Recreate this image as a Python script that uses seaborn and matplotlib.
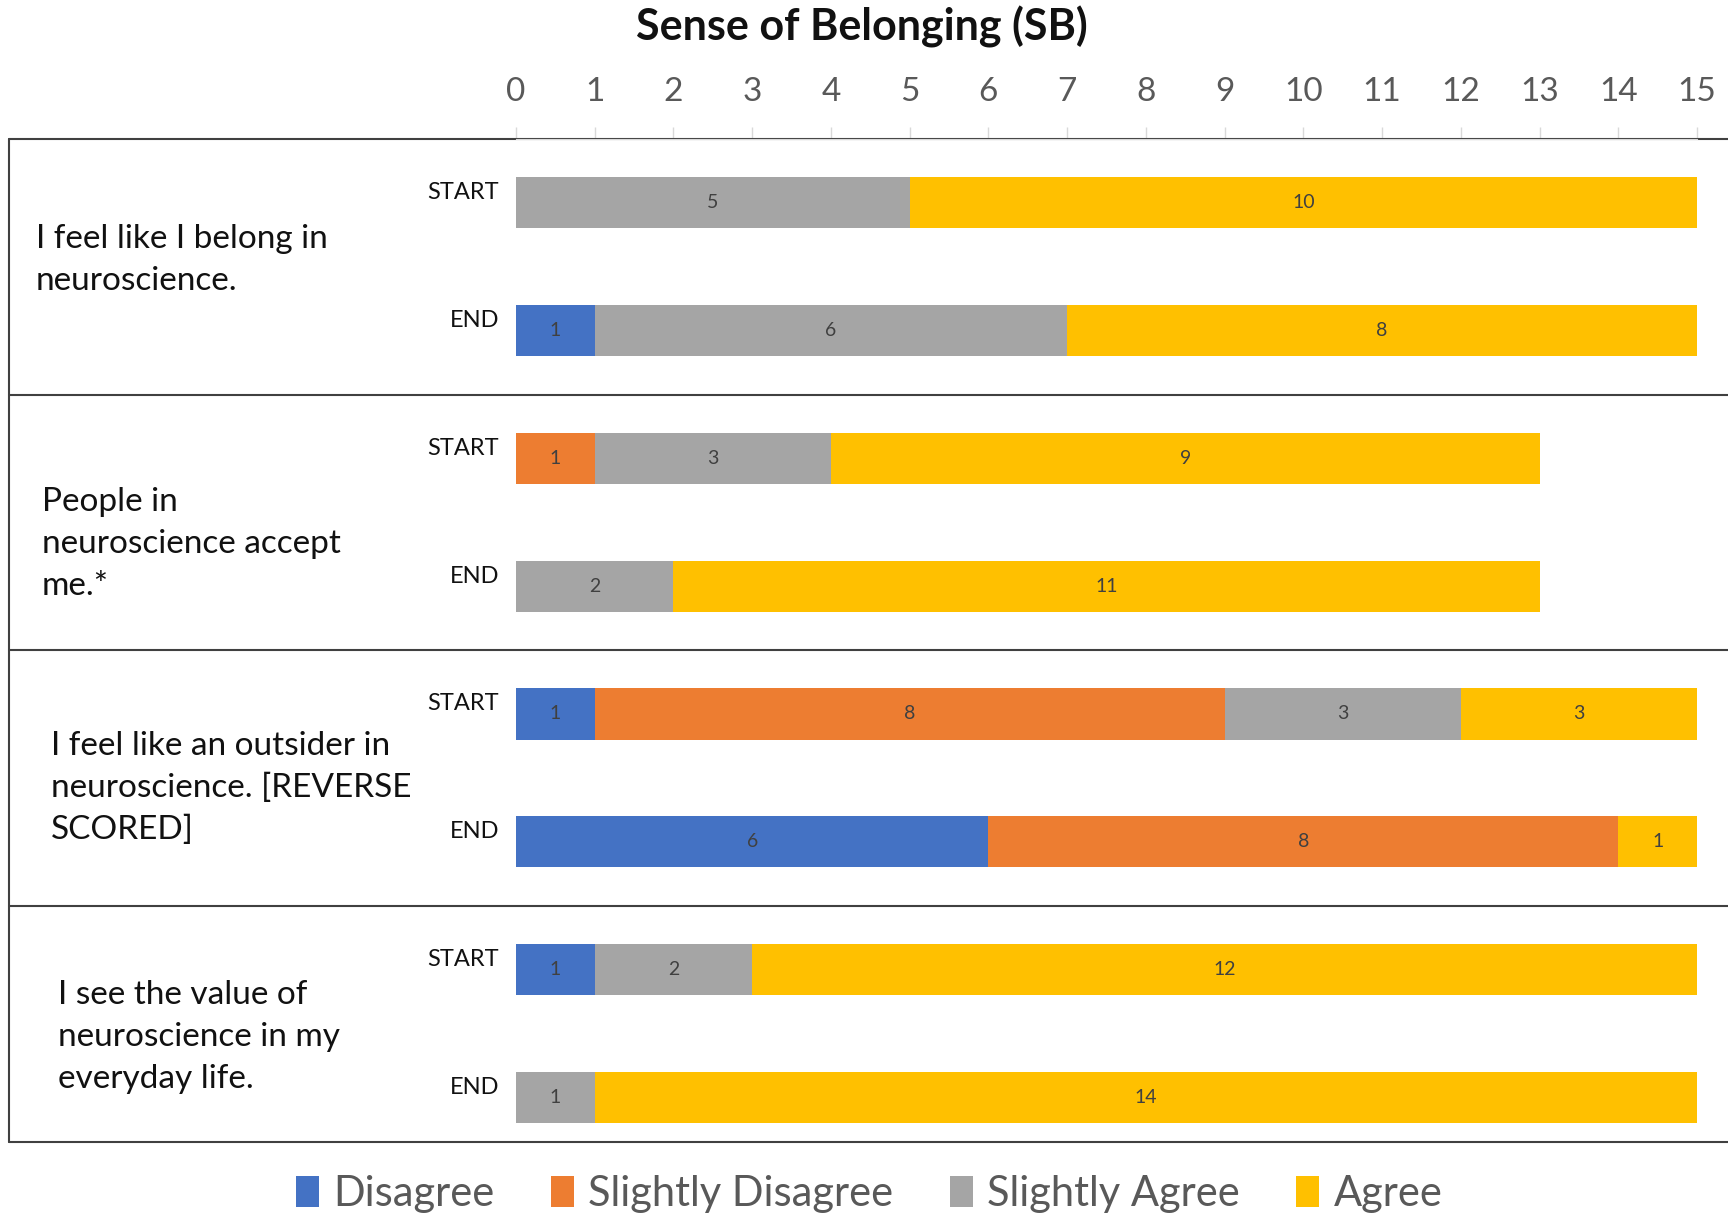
import numpy as np
import pandas as pd
import matplotlib
matplotlib.use("Agg")
import matplotlib.pyplot as plt
import seaborn as sns
from matplotlib.patches import Patch
from matplotlib.lines import Line2D
from matplotlib.transforms import ScaledTranslation

# ── Data ─────────────────────────────────────────────────────
questions = [
    "I feel like I belong in\nneuroscience.",
    "People in\nneuroscience accept\nme.*",
    "I feel like an outsider in\nneuroscience. [REVERSE\nSCORED]",
    "I see the value of\nneuroscience in my\neveryday life.",
]
phases = ["START", "END"]
levels = ["Disagree", "Slightly Disagree", "Slightly Agree", "Agree"]
colors = ["#4472C4", "#ED7D31", "#A5A5A5", "#FFC000"]

# one value per bar, order: Q1 START, Q1 END, Q2 START, ...
disagree          = [0, 1, 0, 0, 1, 6, 1, 0]
slightly_disagree = [0, 0, 1, 0, 8, 8, 0, 0]
slightly_agree    = [5, 6, 3, 2, 3, 0, 2, 1]
agree             = [10, 8, 9, 11, 3, 1, 12, 14]

rows = [f"Q{q + 1} {p}" for q in range(len(questions)) for p in phases]
df = pd.DataFrame({
    "row": rows,
    "phase": phases * len(questions),
    "Disagree": disagree,
    "Slightly Disagree": slightly_disagree,
    "Slightly Agree": slightly_agree,
    "Agree": agree,
})
cum = df[levels].cumsum(axis=1)
for lvl in levels:
    df["cum_" + lvl] = cum[lvl]

# ── Style ────────────────────────────────────────────────────
sns.set_style("white")
plt.rcParams["font.family"] = ["Lato", "DejaVu Sans"]

fig = plt.figure(figsize=(17.28, 12.19), dpi=100)
ax = fig.add_axes([516 / 1728, 1 - 1142 / 1219, (1697 - 516) / 1728, (1142 - 139) / 1219])

# stacked bars: draw cumulative totals widest first
for lvl, col in reversed(list(zip(levels, colors))):
    sns.barplot(data=df, x="cum_" + lvl, y="row", color=col, width=0.4,
                saturation=1, linewidth=0, errorbar=None, orient="h", ax=ax)

# segment value labels
for i in range(len(df)):
    left = 0
    for lvl in levels:
        v = df.loc[i, lvl]
        if v > 0:
            ax.text(left + v / 2, i, str(v), ha="center", va="center",
                    fontsize=14, color="#404040")
        left += v

ax.set_xlim(0, 15)
ax.set_ylim(7.35, -0.5)
ax.set_xlabel("")
ax.set_ylabel("")
ax.set_xticks(range(16))
ax.xaxis.tick_top()
ax.tick_params(axis="x", length=9, width=1, color="#D9D9D9", labelsize=24,
               labelcolor="#595959", pad=14)
ax.set_yticks(range(len(df)))
ax.set_yticklabels(df["phase"])
ax.tick_params(axis="y", length=0, pad=12, labelsize=17, labelcolor="#111111")
for lab in ax.get_yticklabels():
    lab.set_transform(lab.get_transform() + ScaledTranslation(0, 0.12, fig.dpi_scale_trans))

for s in ["left", "right", "bottom"]:
    ax.spines[s].set_visible(False)
ax.spines["top"].set_color("#D9D9D9")
ax.spines["top"].set_zorder(5)

# outer frame and group separators
tr = ax.get_yaxis_transform()
x_left = (9 - 516) / (1697 - 516)
for yy in [-0.5, 1.5, 3.5, 5.5, 7.35]:
    ax.add_line(Line2D([x_left, 1.03], [yy, yy], transform=tr, color="#404040",
                       lw=1.5, clip_on=False, zorder=4))
ax.add_line(Line2D([x_left, x_left], [-0.5, 7.35], transform=tr, color="#404040",
                   lw=1.5, clip_on=False, zorder=4))

# question texts
q_pos = [(36, 260), (42, 544), (51, 788), (58, 1037)]
for txt, (px, py) in zip(questions, q_pos):
    fig.text(px / 1728, 1 - py / 1219, txt, ha="left", va="center",
             fontsize=24, color="#111111", linespacing=1.5)

fig.text(862 / 1728, 1 - 27 / 1219, "Sense of Belonging (SB)", ha="center",
         va="center", fontsize=31, weight="bold", color="#111111")

handles = [Patch(facecolor=c, edgecolor="none") for c in colors]
fig.legend(handles, levels, loc="center", bbox_to_anchor=(0.503, 1 - 1194 / 1219),
           ncol=4, frameon=False, fontsize=30, handlelength=0.55, handleheight=0.8,
           columnspacing=1.35, handletextpad=0.35, labelcolor="#595959")

fig.savefig("out.png", dpi=100)
